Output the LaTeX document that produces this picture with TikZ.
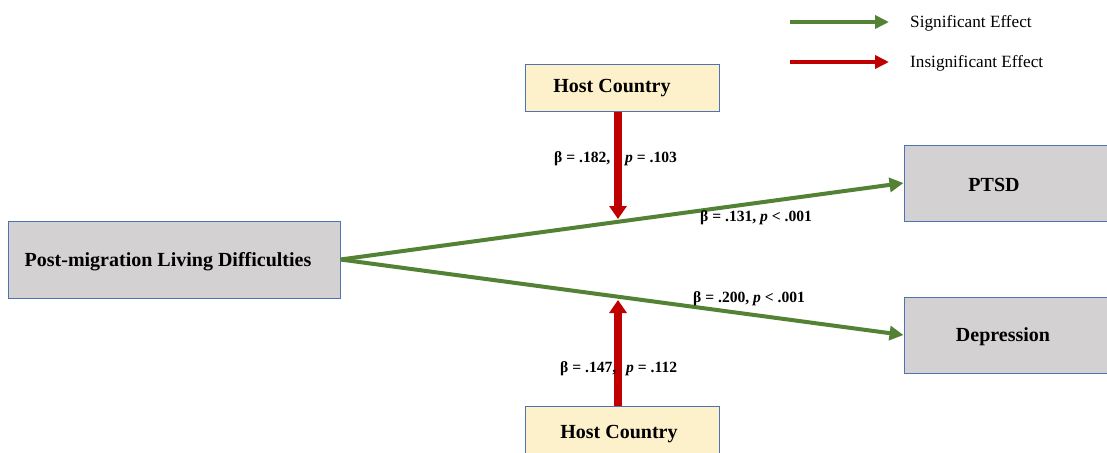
\documentclass[tikz,border=0pt]{standalone}
\usepackage{fontspec}
\setmainfont{Liberation Serif}
\usetikzlibrary{arrows.meta}
\definecolor{sigG}{HTML}{548235}
\definecolor{insR}{HTML}{C00000}
\definecolor{boxEdge}{HTML}{4F72B0}
\definecolor{greyFill}{HTML}{D3D1D2}
\definecolor{hostFill}{HTML}{FDF1CB}
\tikzset{
  varbox/.style={draw=boxEdge, line width=1pt, fill=greyFill, inner sep=0pt},
  hostbox/.style={draw=boxEdge, line width=1pt, fill=hostFill, inner sep=0pt, minimum width=194pt, minimum height=47pt},
  boxtext/.style={font=\fontsize{20}{24}\selectfont\bfseries, inner sep=0pt},
  sigarrow/.style={draw=sigG, line width=4pt, -{Triangle[length=14pt,width=14pt]}},
  insarrow/.style={draw=insR, line width=8pt, -{Triangle[length=13pt,width=17pt]}},
  coef/.style={font=\fontsize{15.6}{18}\selectfont\bfseries, inner sep=0pt},
  legendtext/.style={font=\fontsize{17.2}{20}\selectfont, anchor=west, inner sep=0pt}
}
\begin{document}
\begin{tikzpicture}[x=1pt,y=-1pt]
  \useasboundingbox (0,0) rectangle (1107,452);
  \clip (0,0) rectangle (1107,452);
  \fill[white] (0,0) rectangle (1107,452);

  % variable boxes
  \node[varbox, minimum width=332pt, minimum height=77pt] (pmld) at (174,259.5) {};
  \node[boxtext] (pmldtxt) at (168,261.5) {Post-migration Living Difficulties};
  \node[varbox, minimum width=210pt, minimum height=76pt] (ptsd) at (1009,183) {};
  \node[boxtext] (ptsdtxt) at (994,185) {PTSD};
  \node[varbox, minimum width=210pt, minimum height=76pt] (dep) at (1009,335) {};
  \node[boxtext] (deptxt) at (1003,337) {Depression};

  % moderators
  \node[hostbox] (host1) at (622.5,88) {};
  \node[boxtext] (host1txt) at (612,88.5) {Host Country};
  \node[hostbox] (host2) at (622.5,429.5) {};
  \node[boxtext] (host2txt) at (619,434.5) {Host Country};

  % main paths
  \draw[sigarrow] (pmld.east) -- (ptsd.west);
  \draw[sigarrow] (pmld.east) -- (dep.west);

  % moderation paths
  \coordinate (m1) at (618,219);
  \coordinate (m2) at (618,300);
  \draw[insarrow] (host1.south -| m1) -- (m1);
  \draw[insarrow] (host2.north -| m2) -- (m2);

  % coefficients
  \node[coef, anchor=west] (c1a) at (554,159) {β = .182,};
  \node[coef, anchor=west] (c1b) at (625,159) {\textit{p} = .103};
  \node[coef, anchor=west] (c2) at (700,218) {β = .131, \textit{p} < .001};
  \node[coef, anchor=west] (c3) at (693,299) {β = .200, \textit{p} < .001};
  \node[coef, anchor=west] (c4a) at (560,369) {β = .147,};
  \node[coef, anchor=west] (c4b) at (626,369) {\textit{p} = .112};

  % legend
  \coordinate (lg1a) at (790,22);
  \coordinate (lg1b) at (889,22);
  \coordinate (lg2a) at (790,62);
  \coordinate (lg2b) at (889,62);
  \draw[draw=sigG, line width=4pt, -{Triangle[length=14pt,width=13pt]}] (lg1a) -- (lg1b);
  \draw[draw=insR, line width=4pt, -{Triangle[length=14pt,width=13pt]}] (lg2a) -- (lg2b);
  \node[legendtext] (lt1) at (910,23) {Significant Effect};
  \node[legendtext] (lt2) at (910,63) {Insignificant Effect};
\end{tikzpicture}
\end{document}
